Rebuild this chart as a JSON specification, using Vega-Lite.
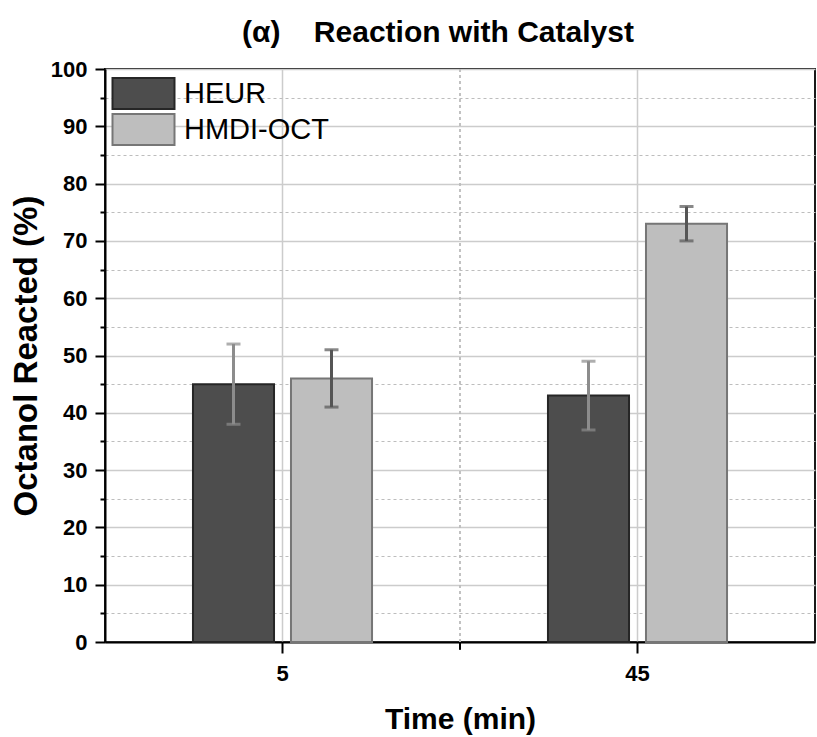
{
  "$schema": "https://vega.github.io/schema/vega-lite/v6.json",
  "width": 710,
  "height": 573,
  "autosize": {"type": "none"},
  "padding": {"left": 105, "top": 69, "right": 2, "bottom": 95},
  "background": "white",
  "config": {
    "font": "Liberation Sans",
    "view": {"stroke": "#1a1a1a", "strokeWidth": 2}
  },
  "title": {
    "text": "(α)\u00a0\u00a0\u00a0\u00a0Reaction with Catalyst",
    "fontSize": 30,
    "fontWeight": "bold",
    "color": "black",
    "anchor": "middle",
    "frame": "group",
    "baseline": "alphabetic",
    "offset": -14,
    "dx": -22
  },
  "data": {
    "values": [
      {"Time": "5", "Material": "HEUR", "mean": 45, "lo": 38, "hi": 52},
      {"Time": "5", "Material": "HMDI-OCT", "mean": 46, "lo": 41, "hi": 51},
      {"Time": "45", "Material": "HEUR", "mean": 43, "lo": 37, "hi": 49},
      {"Time": "45", "Material": "HMDI-OCT", "mean": 73, "lo": 70, "hi": 76}
    ]
  },
  "encoding": {
    "x": {
      "field": "Time",
      "type": "nominal",
      "sort": ["5", "45"],
      "scale": {"paddingInner": 0, "paddingOuter": 0},
      "axis": {
        "title": "Time (min)",
        "titleFontSize": 30,
        "titleFontWeight": "bold",
        "titleColor": "black",
        "titlePadding": 20,
        "labelAngle": 0,
        "labelFontSize": 22,
        "labelFontWeight": "bold",
        "labelColor": "black",
        "labelPadding": 10,
        "tickSize": 11,
        "tickWidth": 2,
        "tickColor": "black",
        "domainColor": "black",
        "domainWidth": 2,
        "bandPosition": 0.5,
        "grid": true,
        "gridColor": "#cccccc",
        "gridWidth": 1.5
      }
    },
    "y": {
      "type": "quantitative",
      "scale": {"domain": [0, 100], "nice": false},
      "axis": {
        "title": "Octanol Reacted (%)",
        "titleFontSize": 33,
        "titleFontWeight": "bold",
        "titleColor": "black",
        "titlePadding": 7,
        "values": [0, 5, 10, 15, 20, 25, 30, 35, 40, 45, 50, 55, 60, 65, 70, 75, 80, 85, 90, 95, 100],
        "labelExpr": "datum.value % 10 === 0 ? datum.label : ''",
        "labelFontSize": 22,
        "labelFontWeight": "bold",
        "labelColor": "black",
        "labelPadding": 8,
        "tickSize": {"condition": {"test": "datum.value % 10 !== 0", "value": 5}, "value": 10},
        "tickWidth": 2,
        "tickColor": "black",
        "domainColor": "black",
        "domainWidth": 2,
        "grid": true,
        "gridColor": {"condition": {"test": "datum.value % 10 !== 0", "value": "#bdbdbd"}, "value": "#cccccc"},
        "gridDash": {"condition": {"test": "datum.value % 10 !== 0", "value": [3, 3]}, "value": []},
        "gridWidth": {"condition": {"test": "datum.value % 10 !== 0", "value": 1}, "value": 1.5}
      }
    }
  },
  "layer": [
    {
      "mark": {"type": "rule", "color": "#bdbdbd", "strokeDash": [3, 3], "strokeWidth": 1},
      "encoding": {
        "x": {"datum": "5", "type": "nominal", "bandPosition": 1}
      }
    },
    {
      "mark": {"type": "tick", "orient": "vertical", "size": 7, "thickness": 2, "color": "black", "yOffset": 4, "clip": false},
      "encoding": {
        "x": {"datum": "5", "type": "nominal", "bandPosition": 1},
        "y": {"datum": 0, "type": "quantitative"}
      }
    },
    {
      "mark": {"type": "bar", "strokeWidth": 2},
      "encoding": {
        "y": {"field": "mean", "type": "quantitative"},
        "xOffset": {
          "field": "Material",
          "type": "nominal",
          "scale": {"paddingInner": 0.173, "paddingOuter": 0.8975}
        },
        "color": {
          "field": "Material",
          "type": "nominal",
          "scale": {"domain": ["HEUR", "HMDI-OCT"], "range": ["#4d4d4d", "#bebebe"]},
          "legend": {
            "title": null,
            "orient": "none",
            "legendX": 22,
            "legendY": 8,
            "padding": 0,
            "symbolType": "M-2,-1H2V1H-2Z",
            "symbolSize": 961,
            "symbolStrokeWidth": 2,
            "symbolOpacity": 1,
            "labelFontSize": 29,
            "labelFont": "Liberation Sans",
            "labelColor": "black",
            "labelOffset": 24,
            "rowPadding": -4,
            "fillColor": null
          }
        },
        "stroke": {
          "field": "Material",
          "type": "nominal",
          "scale": {"domain": ["HEUR", "HMDI-OCT"], "range": ["#262626", "#767676"]},
          "legend": null
        },
        "opacity": {"value": 1}
      }
    },
    {
      "mark": {"type": "rule", "strokeWidth": 3},
      "encoding": {
        "xOffset": {"field": "Material", "type": "nominal"},
        "y": {"field": "lo", "type": "quantitative"},
        "y2": {"field": "hi"},
        "color": {"condition": {"test": "datum.Material === 'HEUR'", "value": "#8c8c8c"}, "value": "#555555"}
      }
    },
    {
      "mark": {"type": "tick", "orient": "horizontal", "size": 14, "thickness": 3},
      "encoding": {
        "xOffset": {"field": "Material", "type": "nominal"},
        "y": {"field": "lo", "type": "quantitative"},
        "color": {"condition": {"test": "datum.Material === 'HEUR'", "value": "#8c8c8c"}, "value": "#555555"}
      }
    },
    {
      "mark": {"type": "tick", "orient": "horizontal", "size": 14, "thickness": 3},
      "encoding": {
        "xOffset": {"field": "Material", "type": "nominal"},
        "y": {"field": "hi", "type": "quantitative"},
        "color": {"condition": {"test": "datum.Material === 'HEUR'", "value": "#8c8c8c"}, "value": "#555555"}
      }
    }
  ]
}
